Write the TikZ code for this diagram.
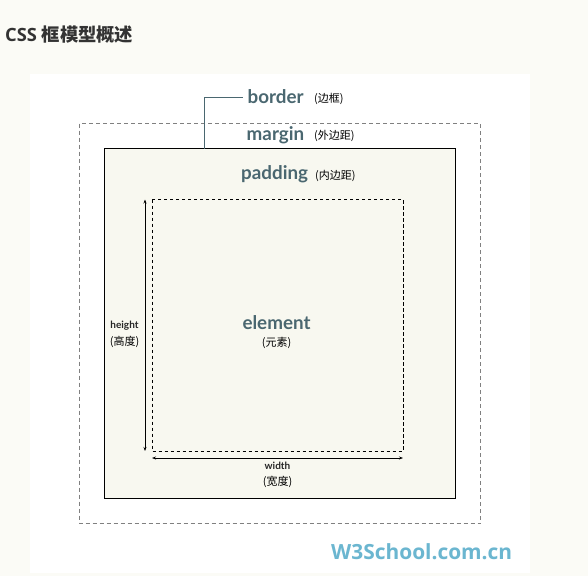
\documentclass[tikz,border=0pt]{standalone}
\usepackage{fontspec}
\setmainfont{Lato}
\newfontfamily\cjk{Noto Sans CJK SC}
\newfontfamily\titlefont{Open Sans}
\newfontfamily\logofont{Open Sans}
\usetikzlibrary{arrows.meta}
\definecolor{pagebg}{HTML}{FBFBF6}
\definecolor{boxbg}{HTML}{F8F8F0}
\definecolor{teal}{HTML}{4A6770}
\definecolor{logo}{HTML}{6BB6D0}
\definecolor{titlec}{HTML}{333333}
\definecolor{margc}{HTML}{808080}
\tikzset{
  big/.style={inner sep=0pt, text=teal, font=\fontsize{18.8}{18}\selectfont\bfseries},
  small/.style={inner sep=0pt, text=black, font=\cjk\fontsize{11}{11}\selectfont},
  tiny/.style={inner sep=0pt, text=black!85, font=\fontsize{10}{10}\selectfont\bfseries},
  dimarrow/.style={black, line width=0.7pt, {Stealth[length=4pt,width=3pt]}-{Stealth[length=4pt,width=3pt]}}
}
\begin{document}
\begin{tikzpicture}[x=1pt,y=-1pt]
\fill[pagebg] (0,0) rectangle (588,576);
\useasboundingbox (0,0) rectangle (588,576);
\fill[white] (30,74) rectangle (530,573);
% title
\node[anchor=base west, inner sep=0pt, text=titlec, font=\fontsize{18.3}{18}\selectfont\bfseries] (title) at (5,41) {\titlefont CSS \cjk 框模型概述};
% margin box
\draw[margc, line width=0.8pt, dash pattern=on 4pt off 3pt] (79.5,123.5) rectangle (480.5,523.5);
% border box
\draw[black, line width=1pt, fill=boxbg] (104,148.5) rectangle (455.5,498.5);
\coordinate (bleg) at (204,148.5);
% inner element box
\draw[black, line width=0.7pt, dash pattern=on 3.5pt off 2.5pt] (152,199.5) rectangle (403,451);
% dimension arrows
\coordinate (ht) at (145,199.5);
\coordinate (hb) at (145,451);
\draw[dimarrow] (ht) -- (hb);
\coordinate (wl) at (152,458);
\coordinate (wr) at (403,458);
\draw[dimarrow] (wl) -- (wr);
% labels
\node[big, anchor=base west] (bordertxt) at (247.5,103) {border};
\node[small, anchor=base west] (bordercn) at (314,102) {(边框)};
\coordinate (bl) at (243,97);
\draw[teal, line width=1pt] (bleg) |- (bl);
\node[big, anchor=base west] (margintxt) at (246.5,140) {margin};
\node[small, anchor=base west] (margincn) at (314,139) {(外边距)};
\node[big, anchor=base west] (paddingtxt) at (241,179) {padding};
\node[small, anchor=base west] (paddingcn) at (315,179) {(内边距)};
\node[big, anchor=base] (elementtxt) at (276.5,329) {element};
\node[small, anchor=base] (elementcn) at (276.5,346) {(元素)};
\node[tiny, anchor=base] (heighttxt) at (124.5,328) {height};
\node[small, anchor=base] (heightcn) at (124.5,345) {(高度)};
\node[tiny, anchor=base] (widthtxt) at (277.5,469) {width};
\node[small, anchor=base] (widthcn) at (277.5,485) {(宽度)};
% logo
\node[anchor=base west, inner sep=0pt, text=logo, font=\logofont\fontsize{20.9}{20}\selectfont\bfseries] (logo) at (331,559) {W3School.com.cn};
\end{tikzpicture}
\end{document}
